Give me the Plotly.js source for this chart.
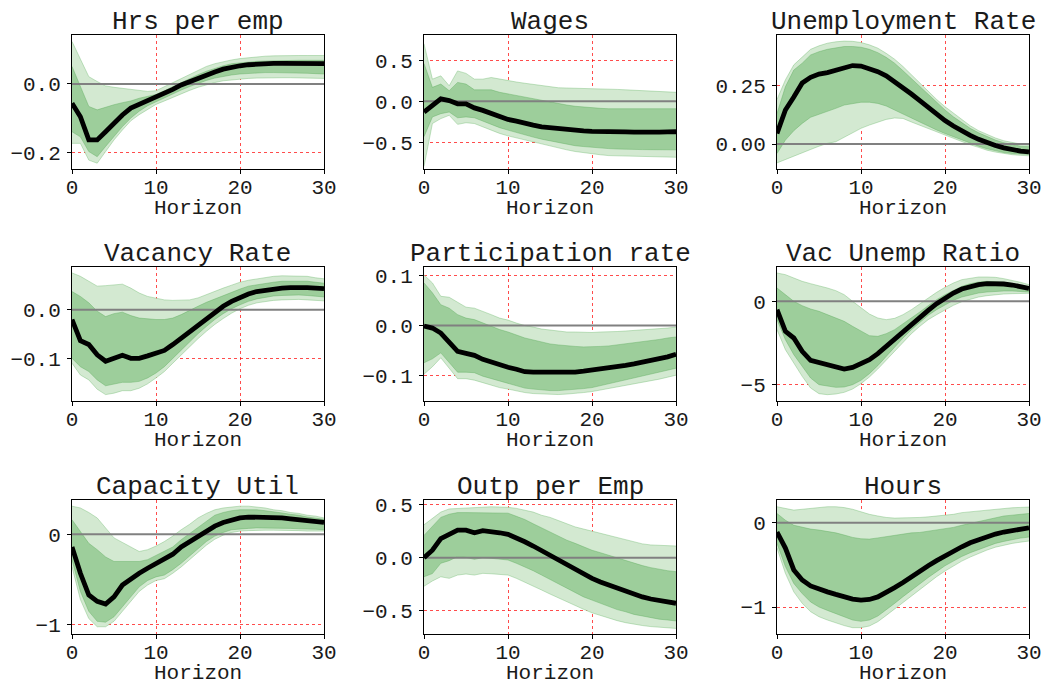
<!DOCTYPE html>
<html>
<head>
<meta charset="utf-8">
<script src="https://cdn.plot.ly/plotly-3.0.1.min.js"></script>
<style>html,body{margin:0;padding:0;background:#fff;}#chart{width:1045px;height:686px;}</style>
</head>
<body>
<div id="chart"></div>
<script>
// ---------- DATA ----------
const horizon = [0,1,2,3,4,5,6,7,8,9,10,11,12,13,14,15,16,17,18,19,20,21,22,23,24,25,26,27,28,29,30];
const xTicks = [0,10,20,30];
const xTitle = "Horizon";

// Hrs per emp
const hrsMed = [-0.057,-0.096,-0.164,-0.164,-0.14,-0.113,-0.091,-0.071,-0.06,-0.05,-0.04,-0.027,-0.016,-0.003,0.007,0.017,0.026,0.035,0.043,0.049,0.053,0.056,0.058,0.059,0.06,0.06,0.06,0.06,0.06,0.06,0.059];
const hrsInU = [0.051,-0.008,-0.066,-0.076,-0.068,-0.061,-0.055,-0.05,-0.042,-0.037,-0.031,-0.02,-0.008,0.004,0.015,0.027,0.037,0.046,0.053,0.059,0.062,0.064,0.066,0.067,0.068,0.069,0.069,0.069,0.069,0.069,0.069];
const hrsInL = [-0.14,-0.155,-0.198,-0.213,-0.183,-0.154,-0.125,-0.1,-0.08,-0.064,-0.052,-0.04,-0.029,-0.018,-0.008,0.002,0.01,0.017,0.022,0.026,0.029,0.031,0.032,0.033,0.033,0.033,0.033,0.032,0.031,0.03,0.029];
const hrsOutU = [0.124,0.07,0.021,0.007,-0.006,-0.01,-0.013,-0.016,-0.019,-0.022,-0.02,-0.008,0.004,0.017,0.029,0.041,0.051,0.059,0.065,0.07,0.074,0.077,0.08,0.081,0.082,0.083,0.083,0.083,0.083,0.083,0.083];
const hrsOutL = [-0.174,-0.174,-0.223,-0.232,-0.198,-0.164,-0.135,-0.108,-0.09,-0.074,-0.06,-0.05,-0.039,-0.029,-0.019,-0.01,-0.002,0.004,0.009,0.012,0.014,0.016,0.017,0.018,0.018,0.018,0.018,0.017,0.017,0.016,0.016];

// Wages
const wagMed = [-0.13,-0.05,0.03,0.01,-0.03,-0.03,-0.08,-0.11,-0.15,-0.19,-0.22,-0.24,-0.27,-0.29,-0.31,-0.32,-0.34,-0.35,-0.355,-0.36,-0.365,-0.37,-0.37,-0.37,-0.372,-0.375,-0.378,-0.378,-0.375,-0.372,-0.37];
const wagInU = [0.46,0.17,0.21,0.13,0.23,0.21,0.14,0.14,0.14,0.11,0.09,0.07,0.05,0.03,0.01,-0.01,-0.03,-0.045,-0.06,-0.07,-0.08,-0.085,-0.09,-0.09,-0.09,-0.09,-0.09,-0.09,-0.09,-0.09,-0.09];
const wagInL = [-0.43,-0.19,-0.15,-0.13,-0.2,-0.19,-0.2,-0.24,-0.28,-0.32,-0.35,-0.38,-0.41,-0.435,-0.46,-0.48,-0.5,-0.52,-0.54,-0.55,-0.56,-0.57,-0.575,-0.58,-0.585,-0.585,-0.587,-0.588,-0.589,-0.59,-0.59];
const wagOutU = [0.7,0.27,0.31,0.19,0.37,0.34,0.27,0.27,0.29,0.27,0.25,0.235,0.22,0.205,0.19,0.177,0.165,0.162,0.16,0.16,0.16,0.155,0.15,0.145,0.14,0.135,0.13,0.125,0.12,0.115,0.11];
const wagOutL = [-0.79,-0.27,-0.21,-0.17,-0.28,-0.26,-0.27,-0.31,-0.35,-0.39,-0.42,-0.445,-0.47,-0.495,-0.52,-0.545,-0.57,-0.59,-0.61,-0.625,-0.64,-0.65,-0.66,-0.663,-0.667,-0.67,-0.672,-0.675,-0.677,-0.68,-0.68];

// Unemployment Rate
const unMed = [0.045,0.145,0.2,0.26,0.284,0.298,0.304,0.315,0.327,0.334,0.332,0.322,0.308,0.29,0.266,0.241,0.213,0.185,0.156,0.128,0.1,0.077,0.055,0.037,0.02,0.006,-0.006,-0.016,-0.024,-0.03,-0.033];
const unInU = [0.13,0.244,0.315,0.344,0.379,0.393,0.403,0.41,0.415,0.415,0.412,0.403,0.389,0.369,0.344,0.312,0.278,0.244,0.209,0.176,0.145,0.116,0.091,0.067,0.048,0.031,0.017,0.006,-0.003,-0.009,-0.011];
const unInL = [-0.04,0.017,0.057,0.088,0.114,0.126,0.138,0.152,0.166,0.173,0.178,0.178,0.173,0.162,0.145,0.128,0.109,0.091,0.074,0.06,0.045,0.031,0.017,0.003,-0.009,-0.02,-0.028,-0.036,-0.04,-0.043,-0.044];
const unOutU = [0.19,0.273,0.337,0.372,0.403,0.418,0.429,0.435,0.438,0.437,0.432,0.422,0.408,0.386,0.361,0.33,0.295,0.259,0.223,0.19,0.159,0.131,0.102,0.078,0.057,0.04,0.026,0.014,0.006,0,-0.004];
const unOutL = [-0.08,-0.065,-0.051,-0.037,-0.023,-0.009,0.003,0.01,0.028,0.048,0.067,0.081,0.094,0.105,0.111,0.109,0.094,0.08,0.065,0.053,0.038,0.024,0.01,-0.003,-0.014,-0.026,-0.034,-0.041,-0.045,-0.048,-0.05];

// Vacancy Rate
const vacMed = [-0.02,-0.063,-0.071,-0.092,-0.105,-0.099,-0.093,-0.099,-0.099,-0.094,-0.088,-0.083,-0.071,-0.058,-0.044,-0.031,-0.017,-0.005,0.007,0.017,0.025,0.032,0.037,0.04,0.043,0.044,0.045,0.046,0.045,0.044,0.043];
const vacInU = [0.037,0.027,0.014,-0.003,-0.014,-0.008,-0.005,-0.012,-0.017,-0.019,-0.02,-0.02,-0.017,-0.01,-0.001,0.007,0.015,0.022,0.029,0.036,0.042,0.048,0.051,0.054,0.056,0.058,0.058,0.058,0.058,0.056,0.054];
const vacInL = [-0.099,-0.116,-0.126,-0.143,-0.155,-0.151,-0.148,-0.148,-0.146,-0.139,-0.129,-0.116,-0.099,-0.082,-0.065,-0.049,-0.034,-0.02,-0.008,0.002,0.01,0.017,0.022,0.025,0.028,0.029,0.03,0.03,0.029,0.028,0.026];
const vacOutU = [0.075,0.068,0.058,0.048,0.049,0.051,0.052,0.044,0.034,0.027,0.024,0.02,0.019,0.019,0.02,0.024,0.031,0.037,0.044,0.05,0.056,0.06,0.063,0.066,0.068,0.069,0.069,0.069,0.068,0.065,0.063];
const vacOutL = [-0.109,-0.133,-0.143,-0.162,-0.173,-0.17,-0.165,-0.165,-0.16,-0.151,-0.139,-0.126,-0.109,-0.092,-0.075,-0.059,-0.044,-0.03,-0.018,-0.007,0.002,0.009,0.014,0.017,0.019,0.02,0.021,0.021,0.02,0.019,0.018];

// Participation rate
const parMed = [-0.001,-0.005,-0.015,-0.035,-0.052,-0.056,-0.06,-0.068,-0.074,-0.078,-0.084,-0.088,-0.093,-0.094,-0.094,-0.095,-0.096,-0.095,-0.094,-0.092,-0.09,-0.088,-0.086,-0.083,-0.08,-0.077,-0.074,-0.07,-0.067,-0.063,-0.058];
const parInU = [0.086,0.066,0.042,0.035,0.022,0.015,0.012,0.005,-0.001,-0.008,-0.013,-0.019,-0.025,-0.029,-0.033,-0.037,-0.039,-0.041,-0.042,-0.043,-0.043,-0.042,-0.041,-0.039,-0.037,-0.035,-0.033,-0.031,-0.028,-0.025,-0.023];
const parInL = [-0.075,-0.067,-0.055,-0.075,-0.094,-0.094,-0.095,-0.102,-0.107,-0.112,-0.116,-0.122,-0.126,-0.128,-0.13,-0.131,-0.131,-0.13,-0.129,-0.127,-0.125,-0.121,-0.117,-0.113,-0.109,-0.106,-0.102,-0.098,-0.094,-0.09,-0.086];
const parOutU = [0.102,0.086,0.059,0.057,0.047,0.037,0.035,0.029,0.022,0.015,0.011,0.005,0,-0.003,-0.007,-0.009,-0.011,-0.013,-0.013,-0.014,-0.014,-0.013,-0.013,-0.012,-0.011,-0.01,-0.009,-0.007,-0.006,-0.005,-0.003];
const parOutL = [-0.098,-0.083,-0.065,-0.087,-0.107,-0.107,-0.11,-0.115,-0.12,-0.125,-0.128,-0.132,-0.135,-0.137,-0.138,-0.139,-0.139,-0.138,-0.137,-0.135,-0.133,-0.13,-0.127,-0.124,-0.121,-0.118,-0.114,-0.111,-0.108,-0.104,-0.1];

// Vac Unemp Ratio
const vurMed = [-0.5,-1.8,-2.2,-3.0,-3.54,-3.66,-3.8,-3.96,-4.06,-3.96,-3.76,-3.5,-3.14,-2.7,-2.26,-1.8,-1.36,-0.96,-0.54,-0.14,0.2,0.5,0.74,0.9,1.0,1.06,1.06,1.04,0.98,0.9,0.78];
const vurInU = [0.8,0.4,0,-0.26,-0.46,-0.6,-0.8,-1.0,-1.2,-1.5,-1.8,-2.06,-2.1,-1.94,-1.7,-1.36,-1.0,-0.64,-0.26,0.1,0.4,0.66,0.9,1.06,1.16,1.2,1.18,1.14,1.06,0.96,0.84];
const vurInL = [-1.1,-2.3,-3.2,-3.9,-4.6,-5.0,-5.1,-5.16,-5.14,-5.0,-4.74,-4.34,-3.86,-3.3,-2.74,-2.2,-1.7,-1.24,-0.84,-0.5,-0.2,0.06,0.26,0.4,0.5,0.56,0.6,0.62,0.62,0.6,0.56];
const vurOutU = [1.7,1.6,1.4,1.2,1.06,0.94,0.8,0.64,0.4,0,-0.4,-0.76,-1.0,-1.1,-1.02,-0.8,-0.5,-0.14,0.2,0.54,0.84,1.1,1.3,1.4,1.46,1.46,1.44,1.36,1.26,1.14,1.0];
const vurOutL = [-1.7,-2.9,-3.7,-4.5,-5.2,-5.54,-5.6,-5.56,-5.46,-5.26,-4.94,-4.54,-4.06,-3.54,-3.0,-2.46,-1.94,-1.5,-1.1,-0.8,-0.5,-0.24,-0.02,0.14,0.26,0.34,0.4,0.44,0.46,0.48,0.48];

// Capacity Util
const capMed = [-0.14,-0.43,-0.67,-0.74,-0.77,-0.69,-0.56,-0.49,-0.43,-0.375,-0.32,-0.27,-0.22,-0.14,-0.08,-0.02,0.04,0.09,0.13,0.16,0.18,0.19,0.19,0.19,0.185,0.18,0.17,0.16,0.15,0.14,0.13];
const capInU = [0.16,0.03,-0.1,-0.17,-0.25,-0.3,-0.3,-0.3,-0.3,-0.28,-0.235,-0.19,-0.14,-0.06,0.01,0.08,0.15,0.21,0.24,0.26,0.27,0.27,0.27,0.26,0.25,0.235,0.22,0.21,0.19,0.18,0.165];
const capInL = [-0.28,-0.63,-0.85,-0.96,-0.97,-0.91,-0.8,-0.69,-0.58,-0.51,-0.47,-0.45,-0.39,-0.32,-0.24,-0.15,-0.08,-0.02,0.02,0.05,0.06,0.065,0.07,0.07,0.07,0.07,0.065,0.06,0.06,0.055,0.05];
const capOutU = [0.31,0.29,0.24,0.18,0.07,-0.04,-0.09,-0.14,-0.19,-0.17,-0.13,-0.08,-0.02,0.05,0.11,0.18,0.23,0.27,0.29,0.3,0.31,0.31,0.3,0.29,0.27,0.26,0.24,0.23,0.21,0.2,0.18];
const capOutL = [-0.36,-0.72,-0.93,-1.02,-1.02,-0.96,-0.85,-0.74,-0.63,-0.56,-0.51,-0.49,-0.43,-0.36,-0.28,-0.19,-0.12,-0.055,-0.01,0.02,0.035,0.04,0.045,0.045,0.045,0.045,0.045,0.04,0.035,0.035,0.035];

// Outp per Emp
const opeMed = [0,0.07,0.18,0.22,0.26,0.26,0.235,0.255,0.25,0.235,0.22,0.19,0.15,0.11,0.066,0.022,-0.022,-0.07,-0.116,-0.157,-0.195,-0.23,-0.26,-0.29,-0.32,-0.35,-0.37,-0.39,-0.405,-0.42,-0.43];
const opeInU = [0.21,0.3,0.38,0.41,0.425,0.425,0.425,0.425,0.425,0.425,0.42,0.39,0.36,0.32,0.28,0.245,0.2,0.165,0.135,0.1,0.07,0.047,0.022,-0.003,-0.028,-0.053,-0.075,-0.094,-0.11,-0.123,-0.132];
const opeInL = [-0.18,-0.15,-0.053,-0.028,0.01,0.003,-0.016,0,-0.006,-0.013,-0.022,-0.053,-0.085,-0.123,-0.164,-0.204,-0.248,-0.29,-0.33,-0.37,-0.4,-0.43,-0.46,-0.49,-0.51,-0.535,-0.55,-0.566,-0.58,-0.588,-0.597];
const opeOutU = [0.31,0.37,0.43,0.46,0.465,0.47,0.475,0.478,0.48,0.478,0.475,0.465,0.45,0.43,0.4,0.38,0.35,0.32,0.29,0.27,0.25,0.23,0.21,0.185,0.165,0.145,0.13,0.12,0.116,0.113,0.11];
const opeOutL = [-0.27,-0.22,-0.18,-0.195,-0.164,-0.154,-0.164,-0.148,-0.152,-0.155,-0.164,-0.195,-0.23,-0.267,-0.305,-0.343,-0.38,-0.418,-0.453,-0.487,-0.52,-0.547,-0.572,-0.594,-0.613,-0.63,-0.64,-0.65,-0.657,-0.664,-0.667];

// Hours
const hoursMed = [-0.11,-0.3,-0.56,-0.68,-0.75,-0.79,-0.82,-0.85,-0.88,-0.905,-0.917,-0.91,-0.88,-0.83,-0.77,-0.71,-0.64,-0.57,-0.51,-0.45,-0.39,-0.336,-0.285,-0.237,-0.198,-0.166,-0.134,-0.11,-0.09,-0.07,-0.06];
const hoursInU = [0.11,0.03,-0.03,-0.055,-0.075,-0.087,-0.1,-0.12,-0.146,-0.174,-0.19,-0.194,-0.18,-0.166,-0.15,-0.134,-0.12,-0.115,-0.1,-0.09,-0.075,-0.055,-0.03,-0.008,0.02,0.043,0.063,0.08,0.09,0.1,0.11];
const hoursInL = [-0.245,-0.52,-0.72,-0.84,-0.94,-1.0,-1.04,-1.08,-1.12,-1.154,-1.17,-1.154,-1.107,-1.035,-0.957,-0.877,-0.8,-0.72,-0.65,-0.58,-0.51,-0.455,-0.4,-0.356,-0.316,-0.277,-0.245,-0.221,-0.2,-0.182,-0.17];
const hoursOutU = [0.19,0.17,0.15,0.16,0.17,0.18,0.19,0.19,0.18,0.16,0.13,0.1,0.08,0.063,0.055,0.055,0.06,0.063,0.07,0.08,0.087,0.1,0.12,0.13,0.14,0.154,0.162,0.17,0.178,0.182,0.186];
const hoursOutL = [-0.3,-0.6,-0.82,-0.956,-1.055,-1.115,-1.154,-1.19,-1.22,-1.245,-1.245,-1.225,-1.174,-1.1,-1.024,-0.945,-0.866,-0.787,-0.71,-0.64,-0.573,-0.51,-0.455,-0.407,-0.364,-0.324,-0.29,-0.265,-0.245,-0.23,-0.217];

// titles and y ticks
const titles = ["Hrs per emp","Wages","Unemployment Rate","Vacancy Rate","Participation rate","Vac Unemp Ratio","Capacity Util","Outp per Emp","Hours"];
const yTickVals = [[-0.2,0],[-0.5,0,0.5],[0,0.25],[-0.1,0],[-0.1,0,0.1],[-5,0],[-1,0],[-0.5,0,0.5],[-1,0]];
const yTickText = [["−0.2","0.0"],["−0.5","0.0","0.5"],["0.00","0.25"],["−0.1","0.0"],["−0.1","0.0","0.1"],["−5","0"],["−1","0"],["−0.5","0.0","0.5"],["−1","0"]];

// ---------- BUILD ----------
const series = [
  [hrsMed,hrsInU,hrsInL,hrsOutU,hrsOutL],
  [wagMed,wagInU,wagInL,wagOutU,wagOutL],
  [unMed,unInU,unInL,unOutU,unOutL],
  [vacMed,vacInU,vacInL,vacOutU,vacOutL],
  [parMed,parInU,parInL,parOutU,parOutL],
  [vurMed,vurInU,vurInL,vurOutU,vurOutL],
  [capMed,capInU,capInL,capOutU,capOutL],
  [opeMed,opeInU,opeInL,opeOutU,opeOutL],
  [hoursMed,hoursInU,hoursInL,hoursOutU,hoursOutL]
];
const yRanges = [[-0.249,0.143],[-0.823,0.807],[-0.106,0.464],[-0.186,0.087],[-0.152,0.118],[-5.98,2.06],[-1.10,0.378],[-0.72,0.544],[-1.32,0.27]];

const W = 1045, H = 686;
const colLeft = [72, 424, 777], plotW = 252;
const rowTop = [35, 267, 500], plotH = 134;
const FONT = "Liberation Mono, Courier New, DejaVu Sans Mono, monospace";
const TXT = "#1a1a1a";

const OUTER_FILL = "#d3e9d1", INNER_FILL = "#9dce9b";
const OUTER_EDGE = "rgba(110,185,110,0.5)", INNER_EDGE = "rgba(90,170,90,0.5)";

const traces = [];
const layout = {
  width: W, height: H, margin: {l:0,r:0,t:0,b:0},
  paper_bgcolor: "#fff", plot_bgcolor: "#fff", showlegend: false,
  font: {family: FONT, color: TXT, size: 21},
  annotations: []
};

series.forEach((s, i) => {
  const k = i + 1;
  const xa = "x" + (k === 1 ? "" : k), ya = "y" + (k === 1 ? "" : k);
  const [med, iu, il, ou, ol] = s;
  const base = {x: horizon, xaxis: xa, yaxis: ya, mode: "lines", hoverinfo: "skip"};
  traces.push(Object.assign({}, base, {y: ou, line: {color: OUTER_EDGE, width: 0.8}}));
  traces.push(Object.assign({}, base, {y: ol, fill: "tonexty", fillcolor: OUTER_FILL, line: {color: OUTER_EDGE, width: 0.8}}));
  traces.push(Object.assign({}, base, {y: iu, line: {color: INNER_EDGE, width: 0.8}}));
  traces.push(Object.assign({}, base, {y: il, fill: "tonexty", fillcolor: INNER_FILL, line: {color: INNER_EDGE, width: 0.8}}));
  traces.push(Object.assign({}, base, {x: [horizon[0], horizon[horizon.length-1]], y: [0, 0], line: {color: "#808080", width: 2}}));
  traces.push(Object.assign({}, base, {y: med, line: {color: "#000", width: 4.8}}));

  const r = Math.floor(i / 3), c = i % 3;
  const x0 = colLeft[c] / W, x1 = (colLeft[c] + plotW) / W;
  const y1 = 1 - rowTop[r] / H, y0 = 1 - (rowTop[r] + plotH) / H;
  const axCommon = {
    showline: true, linecolor: "#000", linewidth: 1, mirror: true,
    ticks: "outside", ticklen: 4, tickwidth: 1, tickcolor: "#000",
    showgrid: true, gridcolor: "rgba(255,0,0,0.7)", gridwidth: 1, griddash: "dot",
    zeroline: false, tickfont: {family: FONT, size: 21, color: TXT}
  };
  layout["xaxis" + (k === 1 ? "" : k)] = Object.assign({}, axCommon, {
    domain: [x0, x1], anchor: ya, range: [horizon[0], horizon[horizon.length-1]],
    tickvals: xTicks, ticktext: xTicks.map(String), ticklabelstandoff: -5
  });
  layout["yaxis" + (k === 1 ? "" : k)] = Object.assign({}, axCommon, {
    domain: [y0, y1], anchor: xa, range: yRanges[i],
    tickvals: yTickVals[i], ticktext: yTickText[i], ticklabelstandoff: 2
  });
  layout.annotations.push({
    text: titles[i], xref: "paper", yref: "paper", x: (x0 + x1) / 2, y: y1,
    xanchor: "center", yanchor: "bottom", showarrow: false, yshift: -4,
    font: {family: FONT, size: 26, color: TXT}
  });
  layout.annotations.push({
    text: xTitle, xref: "paper", yref: "paper", x: (x0 + x1) / 2, y: y0,
    xanchor: "center", yanchor: "middle", showarrow: false, yshift: -39,
    font: {family: FONT, size: 21, color: TXT}
  });
});

Plotly.newPlot("chart", traces, layout, {staticPlot: true, displayModeBar: false});
</script>
</body>
</html>
